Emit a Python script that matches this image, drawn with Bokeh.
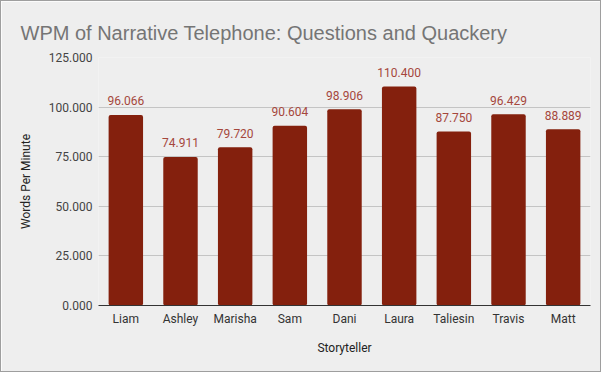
from bokeh.plotting import figure
from bokeh.models import ColumnDataSource, NumeralTickFormatter, FixedTicker
from bokeh.embed import file_html
from bokeh.resources import INLINE
from bokeh.core.properties import value

storytellers = ["Liam", "Ashley", "Marisha", "Sam", "Dani", "Laura", "Taliesin", "Travis", "Matt"]
wpm = [96.066, 74.911, 79.720, 90.604, 98.906, 110.400, 87.750, 96.429, 88.889]
y_ticks = [0, 25, 50, 75, 100, 125]

labels = ["%.3f" % v for v in wpm]
src = ColumnDataSource(dict(x=storytellers, top=wpm, label=labels))

FONT = "Roboto"
BG = "#eeeeee"

p = figure(x_range=storytellers, y_range=(0, 125), width=601, height=372,
           output_backend="svg", toolbar_location=None,
           min_border_left=97, min_border_right=12, min_border_top=56, min_border_bottom=68)
p.styles = {"border": "1px solid #9e9e9e"}
p.background_fill_color = BG
p.border_fill_color = BG
p.outline_line_color = None

p.title.text = "WPM of Narrative Telephone: Questions and Quackery"
p.title.text_font = "Liberation Sans"
p.title.text_font_size = "20px"
p.title.text_font_style = "normal"
p.title.text_color = "#757575"
p.title.align = "left"
p.title.offset = -78
p.title.standoff = 28

p.vbar(x="x", top="top", width=0.63, source=src, fill_color="#84200d", line_color=None,
       border_radius=2)
p.text(x="x", y="top", text="label", source=src, text_align="center", text_baseline="alphabetic",
       y_offset=-14, text_font=value(FONT), text_font_size="12px", text_color="#a5473c")

p.yaxis.ticker = FixedTicker(ticks=y_ticks)
p.yaxis.formatter = NumeralTickFormatter(format="0.000")
p.yaxis.axis_line_color = None
p.yaxis.major_tick_line_color = None
p.yaxis.minor_tick_line_color = None
p.yaxis.major_tick_out = 0
p.yaxis.minor_tick_out = 0
p.yaxis.major_label_text_font = FONT
p.yaxis.major_label_text_font_size = "12px"
p.yaxis.major_label_text_color = "#444444"
p.yaxis.major_label_standoff = 6
p.yaxis.axis_label = "Words Per Minute"
p.yaxis.axis_label_text_font = FONT
p.yaxis.axis_label_text_font_size = "12px"
p.yaxis.axis_label_text_font_style = "normal"
p.yaxis.axis_label_text_color = "#222222"
p.yaxis.axis_label_standoff = 13

p.xaxis.axis_line_color = "#333333"
p.xaxis.major_tick_line_color = None
p.xaxis.minor_tick_line_color = None
p.xaxis.major_tick_out = 0
p.xaxis.minor_tick_out = 0
p.xaxis.major_label_text_font = FONT
p.xaxis.major_label_text_font_size = "12px"
p.xaxis.major_label_text_color = "#333333"
p.xaxis.major_label_standoff = 6
p.xaxis.axis_label = "Storyteller"
p.xaxis.axis_label_text_font = FONT
p.xaxis.axis_label_text_font_size = "12px"
p.xaxis.axis_label_text_font_style = "normal"
p.xaxis.axis_label_text_color = "#222222"
p.xaxis.axis_label_standoff = 12

p.xgrid.grid_line_color = None
p.ygrid.grid_line_color = "#c4c4c4"
p.ygrid.ticker = FixedTicker(ticks=y_ticks)

open("out.html", "w").write(file_html(p, INLINE))
